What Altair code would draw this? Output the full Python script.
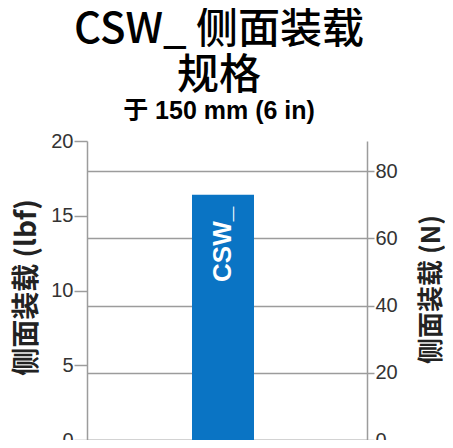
import altair as alt
import pandas as pd

categories = ["CSW_"]
load_lbf = [16.4]
LBF_TO_N = 4.448
load_n = [v * LBF_TO_N for v in load_lbf]
left_ticks = [0, 5, 10, 15, 20]
right_ticks = [0, 20, 40, 60, 80]

df = pd.DataFrame({"cat": categories, "lbf": load_lbf, "n": load_n})

GRAY = "#9c9c9c"
LBL = "Liberation Sans, Arial, sans-serif"
CJK = "Noto Sans CJK SC"

xenc = alt.X(
    "cat:N",
    axis=alt.Axis(labels=False, ticks=False, title=None, domainColor=GRAY, domainWidth=1.5),
)

base = alt.Chart(df)

right = base.mark_bar(opacity=0, size=62, xOffset=-4).encode(
    x=xenc,
    y=alt.Y(
        "n:Q",
        scale=alt.Scale(domain=[0, 20 * LBF_TO_N], nice=False),
        axis=alt.Axis(
            orient="right", values=right_ticks, grid=True, gridColor=GRAY, gridWidth=1.5,
            domainColor=GRAY, domainWidth=1.5, tickColor=GRAY, tickWidth=1.5, tickSize=7,
            labelFont=LBL, labelFontSize=20, labelColor="#333333", labelPadding=1,
            title="侧面装载 (N)", titleFont=CJK, titleFontSize=26, titleFontWeight="bold",
            titleColor="#222222", titleAngle=270, titleX=64, titleY=148,
            titleAlign="center", titleBaseline="middle",
        ),
    ),
)

bars = base.mark_bar(color="#0A74C4", size=62, xOffset=-4).encode(
    x=xenc,
    y=alt.Y(
        "lbf:Q",
        scale=alt.Scale(domain=[0, 20], nice=False),
        axis=alt.Axis(
            orient="left", values=left_ticks, grid=False,
            domainColor=GRAY, domainWidth=1.5, tickColor=GRAY, tickWidth=1.5, tickSize=13,
            labelFont=LBL, labelFontSize=20, labelColor="#333333", labelPadding=1,
            title="侧面装载 (lbf)", titleFont=CJK, titleFontSize=28, titleFontWeight="bold",
            titleColor="#222222", titleAngle=270, titleX=-60, titleY=146,
            titleAlign="center", titleBaseline="middle",
        ),
    ),
)

label = base.mark_text(
    angle=270, align="right", baseline="middle", dx=-12, xOffset=-4, color="white",
    font=LBL, fontSize=26, fontWeight="bold",
).encode(
    x=xenc,
    y=alt.Y("lbf:Q", scale=alt.Scale(domain=[0, 20], nice=False), axis=None),
    text="cat:N",
)

chart = (
    alt.layer(right, bars, label)
    .resolve_scale(y="independent")
    .properties(
        width=280,
        height=299,
        autosize=alt.AutoSizeParams(type="none"),
        padding={"left": 79, "top": 133, "right": 78, "bottom": 0},
        title=alt.TitleParams(
            text=["CSW_ 侧面装载", "规格"],
            subtitle="于 150 mm (6 in)",
            font=CJK, fontSize=42, fontWeight=500, lineHeight=46, color="black",
            subtitleFont="Liberation Sans, Noto Sans CJK SC", subtitleFontSize=25,
            subtitleFontWeight="bold", subtitleColor="black", subtitlePadding=1,
            anchor="middle", frame="group", offset=6, dx=-8,
        ),
    )
    .configure_view(stroke=None)
)

chart.save("out.html", embed_options={"renderer": "svg", "actions": False})
